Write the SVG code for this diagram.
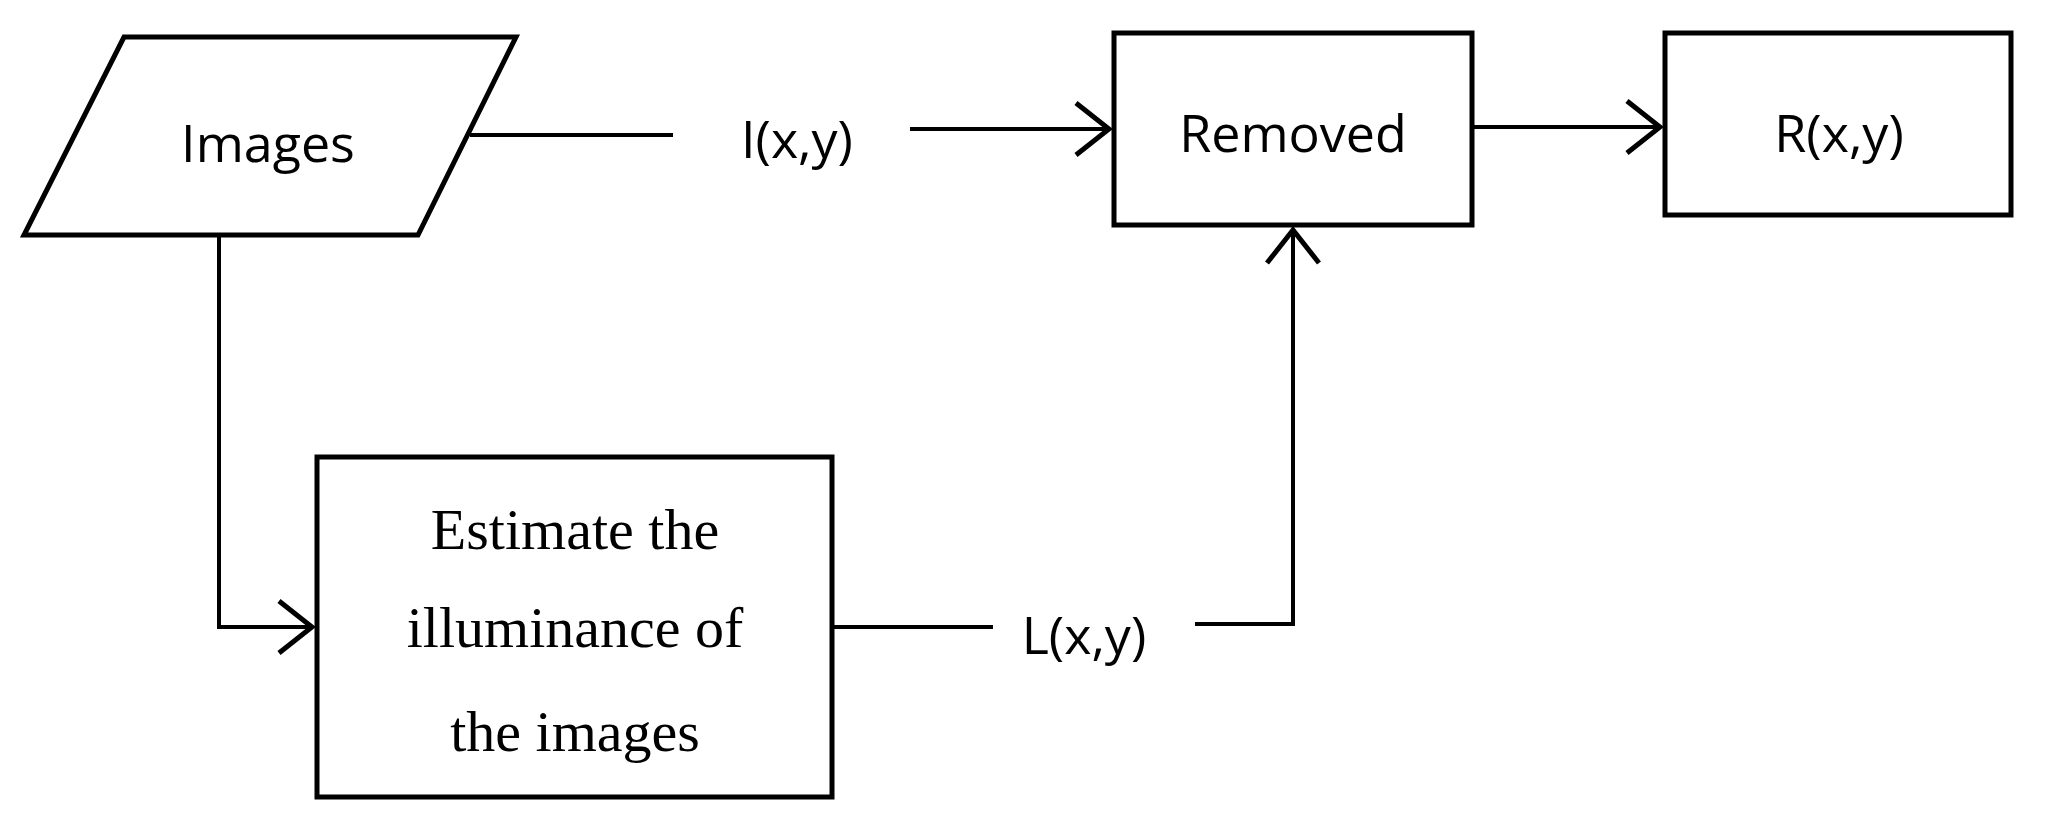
<svg xmlns="http://www.w3.org/2000/svg" width="2047" height="838" viewBox="0 0 2047 838">
<style>
.b{fill:#fff;stroke:#000;stroke-width:5}
.c{fill:none;stroke:#000;stroke-width:4}
.s{font-family:"Open Sans","Liberation Sans",sans-serif;font-size:52px;text-anchor:middle;dominant-baseline:central}
.t{font-family:"Liberation Serif",serif;font-size:58px;text-anchor:middle;dominant-baseline:central}
</style>
<defs><marker id="ab" markerWidth="40" markerHeight="60" refX="38" refY="30" orient="auto" markerUnits="userSpaceOnUse" viewBox="0 0 40 60"><path d="M4,4 L37,30 L4,56" fill="none" stroke="#000" stroke-width="5"/></marker></defs>
<g id="images"><polygon class="b" points="124,37 516,37 418,235 24,235"/><text class="s" x="268" y="141">Images</text></g>
<g id="removed"><rect class="b" x="1114" y="33" width="358" height="192"/><text class="s" x="1293" y="131">Removed</text></g>
<g id="r"><rect class="b" x="1665" y="33" width="346" height="182"/><text class="s" x="1839" y="131">R(x,y)</text></g>
<g id="estimate"><rect class="b" x="317" y="457" width="515" height="340"/><text class="t" x="575" y="529">Estimate the</text><text class="t" x="575" y="627">illuminance of</text><text class="t" x="575" y="731">the images</text></g>
<g id="connectors">
<line class="c" x1="470" y1="135" x2="673" y2="135" stroke-width="5"/>
<text class="s" x="797" y="137">I(x,y)</text>
<line class="c" x1="910" y1="129" x2="1110" y2="129" stroke-width="6" marker-end="url(#ab)"/>
<line class="c" x1="1472" y1="127" x2="1661" y2="127" marker-end="url(#ab)"/>
<polyline class="c" points="219,235 219,627 313,627" marker-end="url(#ab)"/>
<line class="c" x1="832" y1="627" x2="993" y2="627" stroke-width="5"/>
<text class="s" x="1084" y="633">L(x,y)</text>
<polyline class="c" points="1195,624 1293,624 1293,229" marker-end="url(#ab)"/>
</g>
</svg>
